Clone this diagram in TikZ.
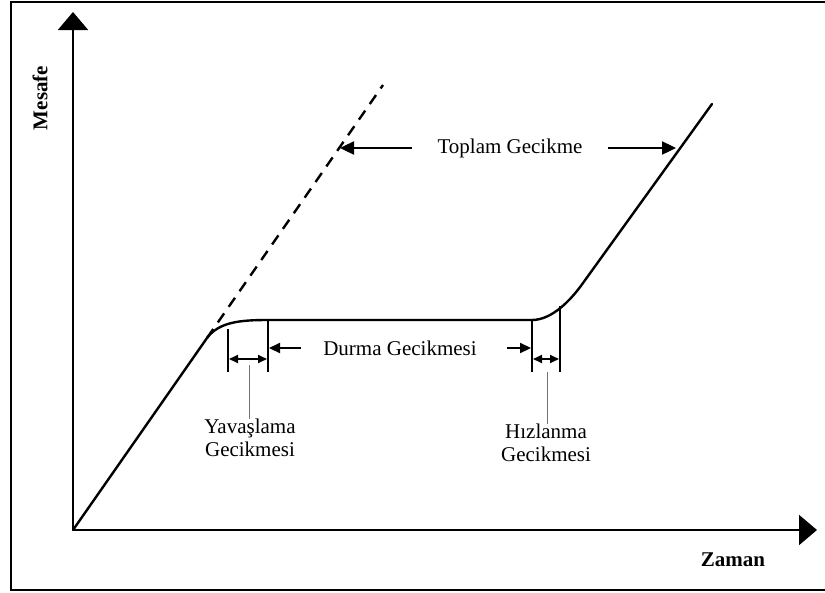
\documentclass[tikz,border=0pt]{standalone}
\usepackage{fontspec}
\setmainfont{Liberation Serif}
\usetikzlibrary{arrows.meta}
\begin{document}
\begin{tikzpicture}[x=1pt,y=-1pt,
  lbl/.style={font=\fontsize{21}{23.5}\selectfont, inner sep=0pt, align=center},
  axislbl/.style={font=\fontsize{21}{23}\selectfont\bfseries, inner sep=0pt},
  axisline/.style={line width=2pt, -{Triangle[length=18pt,width=30pt]}},
  curveline/.style={line width=2.4pt, line cap=round, line join=round},
  tickline/.style={line width=2.4pt},
  leader/.style={line width=1pt, draw=black!55},
  bigarrow/.style={line width=2.4pt, -{Triangle[length=14pt,width=13pt]}},
  midarrow/.style={line width=2.2pt, -{Triangle[length=11pt,width=10pt]}},
  dblarrow/.style={line width=1.8pt, {Triangle[length=9pt,width=8pt]}-{Triangle[length=9pt,width=8pt]}},
  dashline/.style={line width=2.4pt, dash pattern=on 11pt off 8pt}]
\useasboundingbox (0,0) rectangle (825,592);
% frame
\draw[line width=2pt] (11,1.5) rectangle (828,590);
% coordinates
\coordinate (O) at (73,530);
\coordinate (ytip) at (73,12);
\coordinate (xtip) at (817,530);
\coordinate (A) at (207,338);
\coordinate (B) at (268,320);
\coordinate (C) at (532,320);
\coordinate (D) at (583,283);
\coordinate (E) at (712,104);
\coordinate (F) at (383,85);
% axes
\draw[axisline] (O) -- (ytip);
\draw[axisline] (O) -- (xtip);
% curve
\draw[curveline] (O) -- (A) .. controls (219,322) and (240,320) .. (B) -- (C)
  .. controls (552,320) and (571,300) .. (D) -- (E);
\draw[dashline] (A) -- (F);
% ticks
\coordinate (y1t) at (228,329); \coordinate (y1b) at (228,372);
\coordinate (y2t) at (268,320); \coordinate (y2b) at (268,372);
\coordinate (h1t) at (532,320); \coordinate (h1b) at (532,372);
\coordinate (h2t) at (560,306); \coordinate (h2b) at (560,372);
\draw[tickline] (y1t) -- (y1b);
\draw[tickline] (y2t) -- (y2b);
\draw[tickline] (h1t) -- (h1b);
\draw[tickline] (h2t) -- (h2b);
% double arrows
\coordinate (ya) at (229,359); \coordinate (yb) at (267,359);
\coordinate (ha) at (533,359); \coordinate (hb) at (559,359);
\draw[dblarrow] (ya) -- (yb);
\draw[dblarrow] (ha) -- (hb);
% labels
\node[lbl] (toplam) at (510,148) {Toplam Gecikme};
\node[lbl] (durma) at (400,348) {Durma Gecikmesi};
\node[lbl] (yavas) at (250,438) {Yava\c{s}lama\\Gecikmesi};
\node[lbl] (hizl) at (546,443) {H\i zlanma\\Gecikmesi};
\node[axislbl, rotate=90] (mesafe) at (40,98) {Mesafe};
\node[axislbl] (zaman) at (733,560) {Zaman};
% leaders
\coordinate (yl) at (249,365);
\coordinate (hl) at (547,372);
\draw[leader] (yl) -- (yavas.north -| yl);
\draw[leader] (hl) -- (hizl.north -| hl);
% toplam arrows
\coordinate (tl) at (340,148); \coordinate (tr) at (676,148);
\draw[bigarrow] (toplam.west) ++(-25,0) -- (tl);
\draw[bigarrow] (toplam.east) ++(25,0) -- (tr);
% durma arrows
\coordinate (dl) at (269,348); \coordinate (dr) at (531,348);
\draw[midarrow] (durma.west) ++(-22,0) -- (dl);
\draw[midarrow] (durma.east) ++(30,0) -- (dr);
\end{tikzpicture}
\end{document}
